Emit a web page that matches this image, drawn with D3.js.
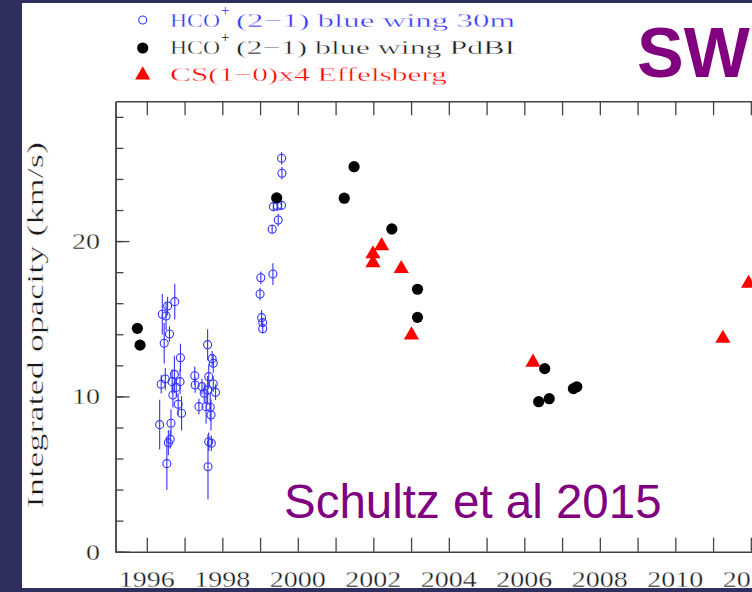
<!DOCTYPE html>
<html>
<head>
<meta charset="utf-8">
<script src="https://cdn.jsdelivr.net/npm/d3@7"></script>
<style>
  html, body { margin: 0; padding: 0; background: #2f2f5f; }
  svg { display: block; }
  /* lighter strokes for the serif labels */
  .thin { stroke: #ffffff; stroke-width: 0.35px; paint-order: normal; }
</style>
</head>
<body>
<script>
// HCO+(2-1) blue wing, IRAM 30m: [year, integrated opacity, error]
const hco30mYears = [
  1996.41, 1996.51, 1996.55, 1996.74, 1996.60, 1996.46, 1996.89, 1996.73, 1996.49, 1996.38,
  1996.67, 1996.78, 1996.88, 1996.69, 1996.83, 1996.92, 1996.34, 1996.64, 1996.62, 1996.57, 1996.53,
  1997.27, 1997.28, 1997.61, 1997.73, 1997.76, 1997.64, 1997.46, 1997.52, 1997.76, 1997.82,
  1997.61, 1997.38, 1997.57, 1997.68, 1997.70, 1997.64, 1997.71, 1997.62,
  1999.57, 1999.58, 1999.35, 1999.46, 1999.57, 1999.48, 1999.32, 1999.34, 1999.02, 1999.00,
  1999.04, 1999.07, 1999.07
];
const hco30mValues = [
  15.29, 15.18, 15.82, 16.10, 14.02, 13.42, 12.49, 11.42, 11.12, 10.78,
  10.95, 10.58, 10.95, 10.09, 9.49, 8.91, 8.18, 8.27, 7.24, 7.02, 5.67,
  11.33, 10.73, 13.33, 12.43, 12.13, 11.27, 10.63, 10.20, 10.80, 10.26,
  10.41, 9.34, 9.34, 9.30, 8.80, 7.08, 6.98, 5.47,
  25.33, 24.37, 22.22, 22.26, 22.30, 21.36, 20.76, 17.88, 17.64, 16.59,
  15.07, 14.75, 14.36
];
const hco30mErrors = [
  1.3, 0.9, 0.6, 1.15, 0.5, 1.3, 0.9, 1.2, 0.7, 0.6,
  0.8, 0.6, 0.8, 0.8, 0.7, 1.1, 1.6, 0.9, 0.6, 0.8, 1.7,
  0.6, 0.5, 1.0, 0.5, 0.6, 0.8, 0.5, 0.6, 0.5, 0.5,
  0.9, 0.5, 1.1, 0.9, 1.0, 0.6, 0.5, 2.1,
  0.4, 0.4, 0.3, 0.3, 0.3, 0.4, 0.3, 0.7, 0.4, 0.4,
  0.5, 0.3, 0.3
];

// HCO+(2-1) blue wing, Plateau de Bure
const pdbiYears  = [1995.75, 1995.82, 1999.44, 2001.23, 2001.49, 2002.49, 2003.17, 2003.17,
                    2006.54, 2006.38, 2006.66, 2007.30, 2007.39];
const pdbiValues = [14.38, 13.30, 22.78, 22.76, 24.79, 20.78, 16.90, 15.09,
                    11.79, 9.66, 9.85, 10.50, 10.62];

// CS(1-0) x4, Effelsberg
const csYears  = [2001.99, 2001.99, 2002.22, 2002.74, 2003.01, 2006.23, 2011.26, 2011.94];
const csValues = [19.17, 18.59, 19.70, 18.22, 13.95, 12.19, 13.73, 17.27];

// Axis ticks
const yearTicks  = d3.range(1996, 2013, 1);
const yearLabels = d3.range(1996, 2013, 2);
const yMinorTicks = d3.range(0, 29, 2);
const yLabelTicks = [0, 10, 20];

const W = 752, H = 592;
const BLUE = "#3333ff", RED = "#ff0000", PURPLE = "#800080", AXIS = "#444444", INK = "#1a1a1a";
const SERIF = "'Liberation Serif', 'Times New Roman', serif";
const SANS = "'Liberation Sans', Arial, sans-serif";

const svg = d3.select("body").append("svg").attr("width", W).attr("height", H);

// page background and white panel
svg.append("rect").attr("width", W).attr("height", H).attr("fill", "#2f2f5f");
svg.append("rect").attr("x", 22).attr("y", 3).attr("width", W - 22).attr("height", 585).attr("fill", "#ffffff");

const x = d3.scaleLinear().domain([1995.17, 2012.9]).range([115.5, 784.8]);
const y = d3.scaleLinear().domain([0, 29]).range([551.7, 101.3]);

const plotTop = y(29), plotBottom = y(0), plotLeft = x.range()[0];

// frame and ticks
const g = svg.append("g");
g.append("g").attr("transform", `translate(0,${plotBottom})`)
  .call(d3.axisBottom(x).tickValues(yearTicks).tickSize(-14).tickSizeOuter(0).tickFormat(""));
g.append("g").attr("transform", `translate(0,${plotTop})`)
  .call(d3.axisTop(x).tickValues(yearTicks).tickSize(-14).tickSizeOuter(0).tickFormat(""));
g.append("g").attr("transform", `translate(${plotLeft},0)`)
  .call(d3.axisLeft(y).tickValues(yMinorTicks).tickSize(-8).tickSizeOuter(0).tickFormat(""));
g.append("g").attr("transform", `translate(${plotLeft},0)`)
  .call(d3.axisLeft(y).tickValues(yLabelTicks).tickSize(-14).tickSizeOuter(0).tickFormat(""));
g.selectAll(".domain").attr("stroke", AXIS).attr("stroke-width", 1.4);
g.selectAll(".tick line").attr("stroke", AXIS).attr("stroke-width", 1.3);

// tick labels
svg.append("g").selectAll("text").data(yearLabels).join("text")
  .attr("class", "thin")
  .attr("x", d => x(d)).attr("y", 587)
  .attr("text-anchor", "middle")
  .attr("font-family", SERIF).attr("font-size", 24).attr("fill", INK)
  .attr("textLength", 56).attr("lengthAdjust", "spacingAndGlyphs")
  .text(d => d);

svg.append("g").selectAll("text").data(yLabelTicks).join("text")
  .attr("class", "thin")
  .attr("x", 100).attr("y", d => y(d) + 8)
  .attr("text-anchor", "end")
  .attr("font-family", SERIF).attr("font-size", 24).attr("fill", INK)
  .attr("textLength", d => String(d).length * 14).attr("lengthAdjust", "spacingAndGlyphs")
  .text(d => d);

// y-axis title
svg.append("text")
  .attr("class", "thin")
  .attr("transform", "translate(43,325) rotate(-90)")
  .attr("text-anchor", "middle")
  .attr("font-family", SERIF).attr("font-size", 23).attr("fill", INK)
  .attr("textLength", 366).attr("lengthAdjust", "spacingAndGlyphs")
  .text("Integrated opacity (km/s)");

// plot area clip
svg.append("defs").append("clipPath").attr("id", "plotclip")
  .append("rect").attr("x", plotLeft).attr("y", plotTop)
  .attr("width", W - plotLeft).attr("height", plotBottom - plotTop);
const marks = svg.append("g").attr("clip-path", "url(#plotclip)");

// 30m points with error bars
const hco30m = hco30mYears.map((t, i) => ({ t, v: hco30mValues[i], e: hco30mErrors[i] }));
marks.append("g").selectAll("line").data(hco30m).join("line")
  .attr("x1", d => x(d.t)).attr("x2", d => x(d.t))
  .attr("y1", d => y(d.v - d.e)).attr("y2", d => y(d.v + d.e))
  .attr("stroke", BLUE).attr("stroke-width", 1.1);
marks.append("g").selectAll("circle").data(hco30m).join("circle")
  .attr("cx", d => x(d.t)).attr("cy", d => y(d.v)).attr("r", 4)
  .attr("fill", "none").attr("stroke", BLUE).attr("stroke-width", 1.1);

// PdBI points
const pdbi = pdbiYears.map((t, i) => ({ t, v: pdbiValues[i] }));
marks.append("g").selectAll("circle").data(pdbi).join("circle")
  .attr("cx", d => x(d.t)).attr("cy", d => y(d.v)).attr("r", 5.6)
  .attr("fill", "#000");

// Effelsberg points
const tri = d3.symbol().type(d3.symbolTriangle).size(100);
const cs = csYears.map((t, i) => ({ t, v: csValues[i] }));
marks.append("g").selectAll("path").data(cs).join("path")
  .attr("transform", d => `translate(${x(d.t)},${y(d.v)})`)
  .attr("d", tri).attr("fill", RED);

// legend
const leg = svg.append("g");
leg.append("circle").attr("cx", 142.7).attr("cy", 20).attr("r", 4)
  .attr("fill", "none").attr("stroke", BLUE).attr("stroke-width", 1.1);
leg.append("circle").attr("cx", 142.7).attr("cy", 48).attr("r", 5.6).attr("fill", "#000");
leg.append("path").attr("transform", "translate(142.7,75)").attr("d", tri).attr("fill", RED);

function hcoRow(baseline, color, rest) {
  leg.append("text").attr("class", "thin").attr("x", 170).attr("y", baseline)
    .attr("font-family", SERIF).attr("font-size", 19).attr("fill", color)
    .attr("textLength", 50).attr("lengthAdjust", "spacingAndGlyphs").text("HCO");
  leg.append("text").attr("x", 221).attr("y", baseline - 12)
    .attr("font-family", SERIF).attr("font-size", 15).attr("fill", color).text("+");
  leg.append("text").attr("class", "thin").attr("x", 236).attr("y", baseline)
    .attr("font-family", SERIF).attr("font-size", 19).attr("fill", color)
    .attr("textLength", 279).attr("lengthAdjust", "spacingAndGlyphs").text(rest);
}
hcoRow(27, BLUE, "(2\u22121) blue wing 30m");
hcoRow(54, INK, "(2\u22121) blue wing PdBI");
leg.append("text").attr("class", "thin").attr("x", 170).attr("y", 81)
  .attr("font-family", SERIF).attr("font-size", 19).attr("fill", RED)
  .attr("textLength", 277).attr("lengthAdjust", "spacingAndGlyphs")
  .text("CS(1\u22120)x4 Effelsberg");

// annotations
svg.append("text").attr("x", 637).attr("y", 77)
  .attr("font-family", SANS).attr("font-weight", "bold")
  .attr("font-size", 70).attr("fill", PURPLE).text("SW");
svg.append("text").attr("x", 284).attr("y", 518)
  .attr("font-family", SANS)
  .attr("font-size", 47.5).attr("fill", PURPLE).text("Schultz et al 2015");

// dark border
svg.append("rect").attr("x", 0).attr("y", 588).attr("width", W).attr("height", H - 588).attr("fill", "#2f2f5f");
svg.append("rect").attr("x", 0).attr("y", 0).attr("width", 22).attr("height", H).attr("fill", "#2f2f5f");
svg.append("rect").attr("x", 0).attr("y", 0).attr("width", W).attr("height", 3).attr("fill", "#2f2f5f");
</script>
</body>
</html>
